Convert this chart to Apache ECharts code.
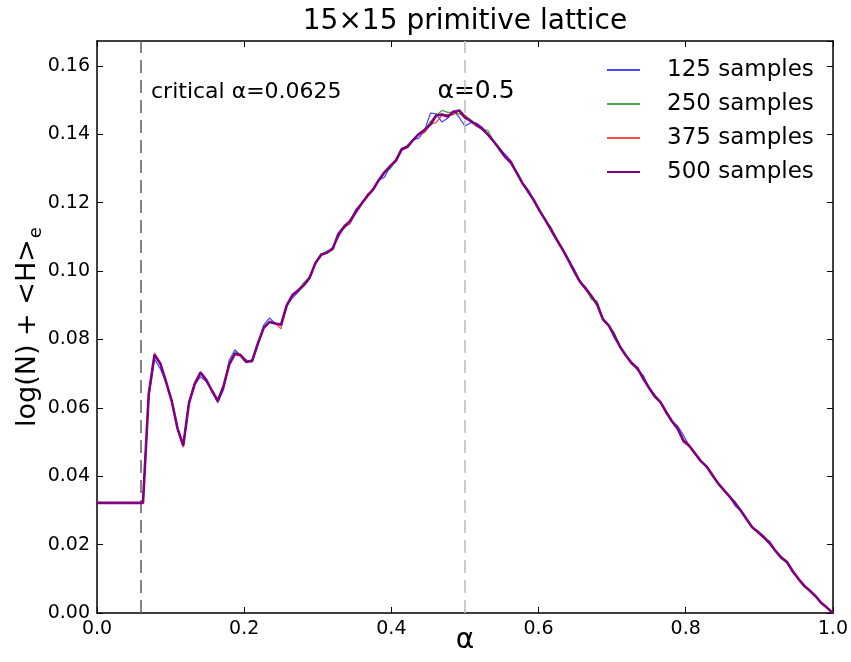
<!DOCTYPE html>
<html>
<head>
<meta charset="utf-8">
<script src="https://cdn.jsdelivr.net/npm/echarts@6/dist/echarts.min.js"></script>
<style>html,body{margin:0;padding:0;background:#fff;}#c{width:851px;height:662px;}</style>
</head>
<body>
<div id="c"></div>
<script>
var alpha = [0,0.00781,0.01563,0.02344,0.03125,0.03906,0.04688,0.05469,0.0625,0.07031,0.07813,0.08594,0.09375,0.10156,0.10938,0.11719,0.125,0.13281,0.14063,0.14844,0.15625,0.16406,0.17188,0.17969,0.1875,0.19531,0.20313,0.21094,0.21875,0.22656,0.23438,0.24219,0.25,0.25781,0.26563,0.27344,0.28125,0.28906,0.29688,0.30469,0.3125,0.32031,0.32813,0.33594,0.34375,0.35156,0.35938,0.36719,0.375,0.38281,0.39063,0.39844,0.40625,0.41406,0.42188,0.42969,0.4375,0.44531,0.45313,0.46094,0.46875,0.47656,0.48438,0.49219,0.5,0.50781,0.51563,0.52344,0.53125,0.53906,0.54688,0.55469,0.5625,0.57031,0.57813,0.58594,0.59375,0.60156,0.60938,0.61719,0.625,0.63281,0.64063,0.64844,0.65625,0.66406,0.67188,0.67969,0.6875,0.69531,0.70313,0.71094,0.71875,0.72656,0.73438,0.74219,0.75,0.75781,0.76563,0.77344,0.78125,0.78906,0.79688,0.80469,0.8125,0.82031,0.82813,0.83594,0.84375,0.85156,0.85938,0.86719,0.875,0.88281,0.89063,0.89844,0.90625,0.91406,0.92188,0.92969,0.9375,0.94531,0.95313,0.96094,0.96875,0.97656,0.98438,0.99219,1];

var s125 = [0.0322,0.0322,0.0322,0.0322,0.0322,0.0322,0.0322,0.0322,0.0322,0.0632,0.0743,0.0715,0.0677,0.0620,0.0540,0.0490,0.0614,0.0668,0.0691,0.0677,0.0650,0.0615,0.0653,0.0739,0.0770,0.0753,0.0740,0.0734,0.0789,0.0842,0.0863,0.0847,0.0843,0.0900,0.0922,0.0939,0.0959,0.0981,0.1024,0.1048,0.1054,0.1070,0.1099,0.1129,0.1146,0.1180,0.1197,0.1219,0.1238,0.1266,0.1275,0.1307,0.1324,0.1352,0.1363,0.1384,0.1389,0.1413,0.1462,0.1460,0.1436,0.1447,0.1470,0.1450,0.1424,0.1434,0.1433,0.1421,0.1399,0.1379,0.1358,0.1342,0.1322,0.1288,0.1257,0.1228,0.1207,0.1176,0.1149,0.1120,0.1091,0.1063,0.1032,0.1006,0.0969,0.0945,0.0927,0.0902,0.0859,0.0841,0.0804,0.0778,0.0753,0.0731,0.0711,0.0695,0.0659,0.0634,0.0617,0.0588,0.0561,0.0547,0.0520,0.0489,0.0467,0.0445,0.0429,0.0404,0.0380,0.0360,0.0341,0.0313,0.0299,0.0274,0.0250,0.0237,0.0221,0.0210,0.0182,0.0162,0.0149,0.0118,0.0100,0.0080,0.0065,0.0049,0.0029,0.0015,0.0000];

var s250 = [0.0322,0.0322,0.0322,0.0322,0.0322,0.0322,0.0322,0.0322,0.0322,0.0640,0.0757,0.0730,0.0677,0.0620,0.0540,0.0490,0.0614,0.0670,0.0706,0.0682,0.0650,0.0621,0.0660,0.0727,0.0764,0.0753,0.0737,0.0738,0.0789,0.0834,0.0854,0.0847,0.0843,0.0895,0.0930,0.0944,0.0967,0.0981,0.1024,0.1048,0.1059,0.1065,0.1109,0.1135,0.1146,0.1172,0.1197,0.1219,0.1238,0.1266,0.1289,0.1299,0.1324,0.1357,0.1369,0.1384,0.1401,0.1413,0.1437,0.1455,0.1470,0.1464,0.1465,0.1460,0.1454,0.1443,0.1428,0.1416,0.1411,0.1379,0.1352,0.1334,0.1317,0.1288,0.1257,0.1234,0.1207,0.1176,0.1149,0.1128,0.1091,0.1063,0.1032,0.0999,0.0969,0.0949,0.0917,0.0912,0.0859,0.0841,0.0819,0.0778,0.0753,0.0731,0.0716,0.0686,0.0659,0.0639,0.0617,0.0588,0.0561,0.0545,0.0505,0.0489,0.0467,0.0445,0.0429,0.0404,0.0380,0.0360,0.0341,0.0321,0.0299,0.0274,0.0250,0.0237,0.0226,0.0204,0.0182,0.0166,0.0149,0.0123,0.0100,0.0076,0.0065,0.0049,0.0029,0.0015,0.0000];

var s375 = [0.0322,0.0322,0.0322,0.0322,0.0322,0.0322,0.0322,0.0322,0.0322,0.0640,0.0761,0.0732,0.0677,0.0620,0.0540,0.0484,0.0617,0.0674,0.0703,0.0682,0.0647,0.0617,0.0663,0.0727,0.0758,0.0757,0.0734,0.0741,0.0789,0.0834,0.0851,0.0847,0.0831,0.0900,0.0930,0.0944,0.0959,0.0981,0.1024,0.1051,0.1054,0.1065,0.1104,0.1129,0.1138,0.1172,0.1197,0.1224,0.1238,0.1266,0.1289,0.1307,0.1319,0.1357,0.1363,0.1384,0.1401,0.1405,0.1429,0.1435,0.1455,0.1458,0.1457,0.1470,0.1455,0.1439,0.1423,0.1416,0.1399,0.1379,0.1358,0.1334,0.1321,0.1288,0.1257,0.1234,0.1203,0.1176,0.1149,0.1120,0.1091,0.1063,0.1032,0.0999,0.0969,0.0953,0.0927,0.0902,0.0859,0.0841,0.0811,0.0778,0.0753,0.0727,0.0716,0.0690,0.0659,0.0634,0.0617,0.0583,0.0561,0.0539,0.0498,0.0489,0.0467,0.0445,0.0429,0.0409,0.0380,0.0360,0.0341,0.0325,0.0299,0.0274,0.0250,0.0233,0.0221,0.0204,0.0182,0.0162,0.0152,0.0123,0.0100,0.0080,0.0065,0.0049,0.0029,0.0015,0.0000];

var s500 = [0.0322,0.0322,0.0322,0.0322,0.0322,0.0322,0.0322,0.0322,0.0322,0.0640,0.0755,0.0730,0.0677,0.0620,0.0540,0.0490,0.0614,0.0670,0.0703,0.0682,0.0650,0.0621,0.0663,0.0727,0.0758,0.0753,0.0734,0.0738,0.0789,0.0834,0.0851,0.0847,0.0843,0.0900,0.0930,0.0944,0.0959,0.0981,0.1024,0.1048,0.1054,0.1065,0.1109,0.1129,0.1146,0.1172,0.1197,0.1219,0.1238,0.1266,0.1289,0.1307,0.1324,0.1357,0.1363,0.1384,0.1401,0.1413,0.1429,0.1455,0.1458,0.1452,0.1465,0.1470,0.1449,0.1439,0.1428,0.1416,0.1399,0.1379,0.1358,0.1334,0.1317,0.1288,0.1257,0.1234,0.1207,0.1176,0.1149,0.1120,0.1091,0.1063,0.1032,0.0999,0.0969,0.0949,0.0927,0.0902,0.0859,0.0841,0.0811,0.0778,0.0753,0.0731,0.0716,0.0686,0.0659,0.0634,0.0617,0.0588,0.0561,0.0539,0.0505,0.0489,0.0467,0.0445,0.0429,0.0404,0.0380,0.0360,0.0341,0.0321,0.0299,0.0274,0.0250,0.0237,0.0221,0.0204,0.0182,0.0162,0.0149,0.0123,0.0100,0.0080,0.0065,0.0049,0.0029,0.0015,0.0000];

var seriesNames = ['125 samples','250 samples','375 samples','500 samples'];
var yTicks = [0, 0.02, 0.04, 0.06, 0.08, 0.10, 0.12, 0.14, 0.16];
var criticalAlpha = 0.0625;
var midAlpha = 0.5;

var FONT = 'DejaVu Sans';
function pairs(xs, ys) { return xs.map(function (x, i) { return [x, ys[i]]; }); }

var chart = echarts.init(document.getElementById('c'), null, { renderer: 'canvas' });

function axisBase() {
  return {
    type: 'value',
    axisLine: { show: true, onZero: false, lineStyle: { color: '#000', width: 1.5 } },
    axisTick: { show: true, inside: true, length: 6, lineStyle: { color: '#000', width: 1 } },
    splitLine: { show: false }
  };
}

var option = {
  animation: false,
  backgroundColor: '#fff',
  grid: { left: 97, right: 18, top: 41, bottom: 49, containLabel: false },
  xAxis: [
    Object.assign(axisBase(), {
      min: 0, max: 1, interval: 0.2, position: 'bottom',
      axisLabel: { show: true, fontFamily: FONT, fontSize: 19, color: '#000', margin: 7,
        formatter: function (v) { return v.toFixed(1); } }
    }),
    Object.assign(axisBase(), {
      min: 0, max: 1, interval: 0.2, position: 'top',
      axisLabel: { show: false }
    })
  ],
  yAxis: [
    Object.assign(axisBase(), {
      min: 0, max: 0.1673, interval: 0.02, position: 'left',
      axisLabel: { show: true, fontFamily: FONT, fontSize: 19, color: '#000', margin: 7, showMaxLabel: false,
        formatter: function (v) {
          for (var i = 0; i < yTicks.length; i++) { if (Math.abs(v - yTicks[i]) < 1e-9) return v.toFixed(2); }
          return '';
        } }
    }),
    Object.assign(axisBase(), {
      min: 0, max: 0.1673, interval: 0.02, position: 'right',
      axisLabel: { show: false }
    })
  ],
  legend: {
    orient: 'vertical',
    left: 606, top: 58,
    padding: 0,
    itemWidth: 33, itemHeight: 14, itemGap: 10,
    itemStyle: { opacity: 0, borderWidth: 0 },
    textStyle: { fontFamily: FONT, fontSize: 23, color: '#000', lineHeight: 24, padding: [0, 0, 0, 22] },
    data: seriesNames
  },
  series: [
    {
      name: 'guides', type: 'line', data: [], xAxisIndex: 0, yAxisIndex: 0, z: 1, silent: true,
      markLine: {
        silent: true, symbol: ['none', 'none'], label: { show: false },
        data: [
          { xAxis: criticalAlpha, lineStyle: { color: '#666', width: 1.6, type: [13, 7] } },
          { xAxis: midAlpha, lineStyle: { color: '#c0c0c0', width: 1.6, type: [13, 7] } }
        ]
      }
    },
    { name: seriesNames[0], type: 'line', data: pairs(alpha, s125), symbol: 'none', z: 2,
      lineStyle: { color: 'rgba(0,0,255,0.7)', width: 1.3 }, itemStyle: { color: 'rgba(0,0,255,0.7)' } },
    { name: seriesNames[1], type: 'line', data: pairs(alpha, s250), symbol: 'none', z: 3,
      lineStyle: { color: 'rgba(0,128,0,0.7)', width: 1.3 }, itemStyle: { color: 'rgba(0,128,0,0.7)' } },
    { name: seriesNames[2], type: 'line', data: pairs(alpha, s375), symbol: 'none', z: 4,
      lineStyle: { color: 'rgba(255,0,0,0.7)', width: 1.3 }, itemStyle: { color: 'rgba(255,0,0,0.7)' } },
    { name: seriesNames[3], type: 'line', data: pairs(alpha, s500), symbol: 'none', z: 5,
      lineStyle: { color: '#800080', width: 2.6 }, itemStyle: { color: '#800080' } }
  ],
  graphic: [
    { type: 'text', x: 465, y: 22, style: { text: '15×15 primitive lattice', fontFamily: FONT, fontSize: 28,
      fill: '#000', textAlign: 'center', textVerticalAlign: 'middle' } },
    { type: 'text', x: 151, y: 92, style: { text: 'critical α=0.0625', fontFamily: FONT, fontSize: 22,
      fill: '#000', textAlign: 'left', textVerticalAlign: 'middle' } },
    { type: 'text', x: 476, y: 91, style: { text: 'α=0.5', fontFamily: FONT, fontSize: 25,
      fill: '#000', textAlign: 'center', textVerticalAlign: 'middle' } },
    { type: 'text', x: 465, y: 641, style: { text: 'α', fontFamily: FONT, fontSize: 28,
      fill: '#000', textAlign: 'center', textVerticalAlign: 'middle' } },
    { type: 'text', x: 28, y: 327, rotation: Math.PI / 2, style: {
      text: '{a|log(N) + <H>}{b|e}', textAlign: 'center', textVerticalAlign: 'middle',
      rich: {
        a: { fontFamily: FONT, fontSize: 27, fill: '#000', lineHeight: 30 },
        b: { fontFamily: FONT, fontSize: 18, fill: '#000', padding: [16, 0, 0, 1], lineHeight: 30 }
      } } }
  ]
};
chart.setOption(option);
</script>
</body>
</html>
